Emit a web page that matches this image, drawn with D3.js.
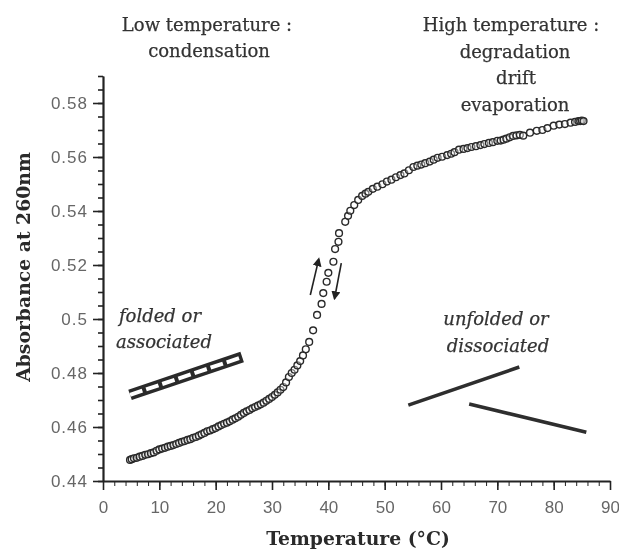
<!DOCTYPE html>
<html lang="en">
<head>
    <meta charset="UTF-8">
    <title>Absorbance melting curve</title>
    <style>
        html, body { margin: 0; padding: 0; background: #fff; }
        svg { display: block; filter: blur(0.5px); }
        .tick text { font-family: "Liberation Sans", sans-serif; font-size: 17px; fill: #666; }
        .y-major .tick text { letter-spacing: 1px; }
        .tick line, .domain { stroke: #222; }
        .note { font-family: "DejaVu Serif", serif; font-size: 18px; fill: #333; stroke: #333; stroke-width: 0.25; text-anchor: middle; }
        .state { font-family: "DejaVu Serif", serif; font-size: 18px; font-style: italic; fill: #333; stroke: #333; stroke-width: 0.25; text-anchor: middle; }
        .title { font-family: "DejaVu Serif", serif; font-size: 18.8px; font-weight: bold; fill: #2a2a2a; text-anchor: middle; }
    </style>
</head>
<body>
    <svg width="619" height="552"></svg>
    <script src="https://d3js.org/d3.v7.min.js"></script>
    <script>
        // values
        const temperature = [
            4.8, 5.1, 5.5, 6, 6.5, 7, 7.5, 8, 8.5, 9, 9.5, 10, 10.5, 11, 11.5, 12, 12.5, 13, 13.5, 14,
            14.5, 15, 15.5, 16, 16.5, 17, 17.5, 18, 18.5, 19, 19.5, 20, 20.5, 21, 21.5, 22, 22.5, 23, 23.5, 24,
            24.5, 25, 25.5, 26, 26.5, 27, 27.5, 28, 28.5, 29, 29.5, 30, 30.5, 31, 31.5, 32, 32.5, 33, 33.5, 34,
            34.5, 35, 35.5, 36, 36.6, 37.3, 38, 38.8, 39.1, 39.7, 40, 40.9, 41.2, 41.8, 41.9, 43, 43.5, 43.9, 44.6, 45.3,
            46, 46.6, 47.1, 47.9, 48.7, 49.6, 50.4, 51.2, 52, 52.8, 53.5, 54.3, 55.1, 55.8, 56.5, 57.2, 58, 58.7, 59.4, 60.2,
            61.1, 61.8, 62.4, 63.2, 64, 64.7, 65.4, 66.2, 67, 67.7, 68.5, 69.2, 70, 70.6, 71.1, 71.6, 72.2, 72.8, 73.4, 74,
            74.6, 75.8, 77, 78, 78.9, 80, 81, 82, 83, 83.8, 84.4, 84.7, 85, 85.3
        ];
        const absorbance = [
            0.4478, 0.4481, 0.4484, 0.4486, 0.449, 0.4493, 0.4497, 0.4499, 0.4503, 0.4506, 0.4512, 0.4517, 0.452, 0.4523, 0.4527, 0.453, 0.4533, 0.4537, 0.4541, 0.4545,
            0.4548, 0.4552, 0.4555, 0.456, 0.4563, 0.4568, 0.4573, 0.4578, 0.4584, 0.4587, 0.4592, 0.4596, 0.4602, 0.4607, 0.4612, 0.4616, 0.4621, 0.4627, 0.4632, 0.4638,
            0.4645, 0.4652, 0.4658, 0.4663, 0.4669, 0.4674, 0.4679, 0.4684, 0.469, 0.4697, 0.4704, 0.4711, 0.4719, 0.4728, 0.4738, 0.4748, 0.4765, 0.4785, 0.48, 0.4812,
            0.4828, 0.4844, 0.4865, 0.4888, 0.4915, 0.4958, 0.5015, 0.5056, 0.5096, 0.5138, 0.5171, 0.5212, 0.5259, 0.5286, 0.5318, 0.536, 0.5382, 0.5401, 0.5422, 0.5441,
            0.5456, 0.5464, 0.5471, 0.5482, 0.549, 0.5499, 0.5509, 0.5516, 0.5525, 0.5533, 0.5539, 0.5551, 0.5563, 0.5568, 0.5572, 0.5577, 0.5583, 0.559, 0.5597, 0.5601,
            0.5607, 0.5612, 0.5618, 0.5627, 0.563, 0.5633, 0.5637, 0.564, 0.5644, 0.5648, 0.5652, 0.5655, 0.566, 0.5661, 0.5664, 0.5668, 0.5673, 0.5678, 0.568, 0.5682,
            0.5679, 0.569, 0.5697, 0.57, 0.5707, 0.5716, 0.572, 0.5722, 0.5727, 0.573, 0.5733, 0.5733, 0.5735, 0.5733
        ];

        const xTicks = [0, 10, 20, 30, 40, 50, 60, 70, 80, 90];
        const xMinorTicks = d3.range(0, 90.01, 2);
        const yTicks = [0.44, 0.46, 0.48, 0.5, 0.52, 0.54, 0.56, 0.58];
        const yMinorTicks = d3.range(0.44, 0.5901, 0.005);

        // hand drawn bars and arrows, as [temperature, absorbance]
        const foldedBar = [[4.8, 0.4719], [24.7, 0.4859]];
        const unfoldedUpper = [[54.2, 0.4681], [73.9, 0.4822]];
        const unfoldedLower = [[65, 0.4685], [85.8, 0.4581]];
        const arrowUp = [[36.8, 0.5089], [38.3, 0.5222]];
        const arrowDown = [[42.3, 0.5207], [41.1, 0.5076]];

        const x = d3.scaleLinear().domain([0, 90]).range([103, 610]);
        const y = d3.scaleLinear().domain([0.44, 0.59]).range([481, 76]);
        const svg = d3.select("svg");
        const line = d3.line().x(d => x(d[0])).y(d => y(d[1]));

        // Axes
        svg.append("g").attr("transform", "translate(0,481)")
            .call(d3.axisBottom(x).tickValues(xMinorTicks).tickSize(5).tickFormat("").tickSizeOuter(0));
        const xMajor = svg.append("g").attr("transform", "translate(0,481)")
            .call(d3.axisBottom(x).tickValues(xTicks).tickSize(9).tickSizeOuter(0).tickPadding(11));
        xMajor.select(".domain").attr("stroke-width", 2);
        xMajor.selectAll(".tick line").attr("stroke-width", 1.6);

        const yMinor = svg.append("g").attr("transform", "translate(103,0)")
            .call(d3.axisLeft(y).tickValues(yMinorTicks).tickSize(5).tickFormat("").tickSizeOuter(0));
        yMinor.selectAll(".tick line").attr("stroke-width", 1.6);
        const yMajor = svg.append("g").attr("class", "y-major").attr("transform", "translate(103,0)")
            .call(d3.axisLeft(y).tickValues(yTicks).tickSize(10).tickSizeOuter(0).tickPadding(5).tickFormat(d => String(d)));
        yMajor.select(".domain").attr("stroke-width", 2.2);
        yMajor.selectAll(".tick line").attr("stroke-width", 1.6);

        // Data circles
        svg.append("g").selectAll("circle")
            .data(temperature)
            .enter()
            .append("circle")
            .attr("cx", d => x(d))
            .attr("cy", (d, i) => y(absorbance[i]))
            .attr("r", 3.4)
            .attr("fill", "#fff")
            .attr("fill-opacity", 0.4)
            .attr("stroke", "#2a2a2a")
            .attr("stroke-width", 1.4);

        // Folded bar, dark band with white dashes
        svg.append("path").attr("d", line(foldedBar))
            .attr("fill", "none").attr("stroke", "#2a2a2a").attr("stroke-width", 11);
        svg.append("path").attr("d", line(foldedBar))
            .attr("fill", "none").attr("stroke", "#fff").attr("stroke-width", 4)
            .attr("stroke-dasharray", "13 4");

        // Unfolded strands
        [unfoldedUpper, unfoldedLower].forEach(d => {
            svg.append("path").attr("d", line(d))
                .attr("fill", "none").attr("stroke", "#2e2e2e").attr("stroke-width", 3.6);
        });

        // Arrows
        svg.append("defs").append("marker")
            .attr("id", "head")
            .attr("viewBox", "0 0 10 10")
            .attr("refX", 8).attr("refY", 5)
            .attr("markerWidth", 9).attr("markerHeight", 9)
            .attr("markerUnits", "userSpaceOnUse")
            .attr("orient", "auto")
            .append("path").attr("d", "M0,0L10,5L0,10Z").attr("fill", "#222");
        [arrowUp, arrowDown].forEach(d => {
            svg.append("path").attr("d", line(d))
                .attr("fill", "none").attr("stroke", "#222").attr("stroke-width", 1.6)
                .attr("marker-end", "url(#head)");
        });

        // Text
        const notes = [
            ["Low temperature :", 207, 31], ["condensation", 209, 57],
            ["High temperature :", 511, 31], ["degradation", 515, 58],
            ["drift", 516, 84], ["evaporation", 515, 111]
        ];
        svg.selectAll(".note").data(notes).enter().append("text").attr("class", "note")
            .attr("x", d => d[1]).attr("y", d => d[2]).text(d => d[0]);

        const states = [
            ["folded or", 160, 322], ["associated", 164, 348],
            ["unfolded or", 496, 325], ["dissociated", 498, 352]
        ];
        svg.selectAll(".state").data(states).enter().append("text").attr("class", "state")
            .attr("x", d => d[1]).attr("y", d => d[2]).text(d => d[0]);

        svg.append("text").attr("class", "title").attr("x", 358).attr("y", 545).text("Temperature (°C)");
        svg.append("text").attr("class", "title")
            .attr("transform", "translate(30,267) rotate(-90)").text("Absorbance at 260nm");
    </script>
</body>
</html>
